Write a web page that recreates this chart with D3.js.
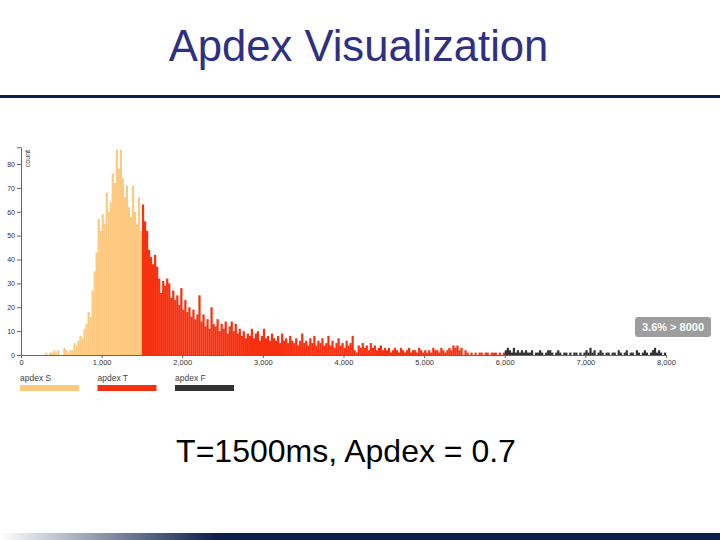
<!DOCTYPE html>
<html><head><meta charset="utf-8">
<script src="https://cdn.jsdelivr.net/npm/d3@7"></script>
<style>body{margin:0;background:#fff}svg{display:block}</style>
</head><body>
<svg id="c" width="720" height="540"></svg>
<script>
// Response-time histogram, 25 ms bins starting at 0 ms
const binWidthMs = 25;
const counts = [
0,0,0,0,0,0,0,0,0,0,0,0,1,0,1,1,2,1,2,0,
0,3,2,1,2,2,5,4,6,8,7,11,13,18,16,27,35,43,57,52,
59,55,68,60,64,76,72,86,78,86,74,66,71,62,58,71,60,55,66,52,
63,56,52,44,41,38,42,37,32,26,31,29,32,30,24,27,23,25,21,28,
19,23,18,20,16,19,15,17,25,14,17,12,15,11,20,13,12,15,10,13,
11,14,9,12,14,10,13,9,11,8,10,7,9,8,11,7,9,10,6,8,
11,7,8,6,9,7,6,8,5,9,6,7,5,8,6,5,7,4,6,9,
5,6,4,7,5,8,4,6,5,7,4,5,8,4,6,3,5,7,4,5,
3,6,4,5,8,2,1,4,3,5,3,4,2,5,3,4,2,3,4,2,
3,2,3,1,2,3,2,1,3,2,1,2,3,1,2,2,1,3,2,1,
2,1,2,1,3,2,2,1,3,2,1,2,3,2,4,3,4,2,3,0,
2,1,0,1,0,1,0,1,1,0,1,1,0,1,1,1,0,1,0,1,
2,3,2,1,3,1,2,1,2,1,2,1,1,2,0,1,1,2,1,0,
1,2,2,1,0,1,2,1,0,1,1,0,1,0,1,1,0,1,0,1,
2,1,3,1,2,0,1,2,1,0,1,1,0,1,1,0,2,1,0,1,
2,0,1,1,0,2,1,0,1,2,1,0,1,2,3,1,2,1,0,1
];
const thresholdT = 1500;           // T
const thresholdF = 6000;           // 4T
const xTicks = [0,1000,2000,3000,4000,5000,6000,7000,8000];
const yTicks = [0,10,20,30,40,50,60,70,80];
const legendLabels = ["apdex S","apdex T","apdex F"];
const legendColors = ["#fdc980","#f7300f","#333333"];
const titleText = "Apdex Visualization";
const subtitleText = "T=1500ms, Apdex = 0.7";
const tooltipText = "3.6% > 8000";

const svg = d3.select("#c");

const defs = svg.append("defs");
const g = defs.append("linearGradient").attr("id","bg").attr("x1","0").attr("x2","1");
g.append("stop").attr("offset","0").attr("stop-color","#ffffff");
g.append("stop").attr("offset","0.3").attr("stop-color","#0c1f4a");
g.append("stop").attr("offset","1").attr("stop-color","#0c1f4a");

svg.append("text").attr("x",358.5).attr("y",61).attr("text-anchor","middle")
  .attr("font-family","'Liberation Sans',Arial,sans-serif").attr("font-size",43.6)
  .attr("fill","#2e3083").text(titleText);
svg.append("rect").attr("x",0).attr("y",95).attr("width",720).attr("height",3).attr("fill","#0c1f4a");

svg.append("text").attr("x",346).attr("y",462).attr("text-anchor","middle")
  .attr("font-family","'Liberation Sans',Arial,sans-serif").attr("font-size",32)
  .attr("fill","#000").text(subtitleText);
svg.append("rect").attr("x",0).attr("y",533).attr("width",720).attr("height",7).attr("fill","url(#bg)");

const x = d3.scaleLinear().domain([0,8000]).range([21,666]);
const y = d3.scaleLinear().domain([0,87]).range([355,355-87*2.3875]);

const bins = counts.map((c,i)=>({x0:i*binWidthMs,x1:(i+1)*binWidthMs,c}));
const colorOf = d => d.x0 < thresholdT ? legendColors[0] : (d.x0 < thresholdF ? legendColors[1] : legendColors[2]);

svg.append("g").selectAll("rect").data(bins.filter(d=>d.c>0)).join("rect")
  .attr("x",d=>x(d.x0)).attr("width",d=>x(d.x1)-x(d.x0)+0.2)
  .attr("y",d=>y(d.c)).attr("height",d=>y(0)-y(d.c))
  .attr("fill",colorOf);

const font = "'Liberation Sans',Arial,sans-serif";
const yAxis = svg.append("g").attr("transform","translate(21,0)")
  .call(d3.axisLeft(y).tickValues(yTicks).tickSize(4).tickPadding(2));
yAxis.select(".domain").attr("stroke","#666");
yAxis.selectAll(".tick line").attr("stroke","#666");
yAxis.selectAll("text").attr("font-family",font).attr("font-size",7).attr("fill","#333");

const xAxis = svg.append("g").attr("transform","translate(0,355)")
  .call(d3.axisBottom(x).tickValues(xTicks).tickSize(3).tickPadding(2).tickFormat(d3.format(",")));
xAxis.select(".domain").attr("stroke","#666");
xAxis.selectAll(".tick line").attr("stroke","#666");
xAxis.selectAll("text").attr("font-family",font).attr("font-size",7.5).attr("fill","#333");

svg.append("text").attr("transform","translate(30,150) rotate(-90)").attr("text-anchor","end")
  .attr("font-family",font).attr("font-size",7).attr("fill","#444").text("count");

const lg = svg.append("g").selectAll("g").data(legendLabels).join("g")
  .attr("transform",(d,i)=>`translate(${20+i*77.5},0)`);
lg.append("text").attr("x",0).attr("y",381).attr("font-family",font).attr("font-size",8.5).attr("fill","#444").text(d=>d);
lg.append("rect").attr("x",0).attr("y",385).attr("width",59).attr("height",6).attr("fill",(d,i)=>legendColors[i]);

svg.append("rect").attr("x",635).attr("y",317).attr("width",76).attr("height",20).attr("rx",3).attr("fill","#9d9d9d");
svg.append("text").attr("x",673).attr("y",331).attr("text-anchor","middle")
  .attr("font-family",font).attr("font-size",11).attr("font-weight","bold").attr("fill","#fff").text(tooltipText);
</script>
</body></html>
